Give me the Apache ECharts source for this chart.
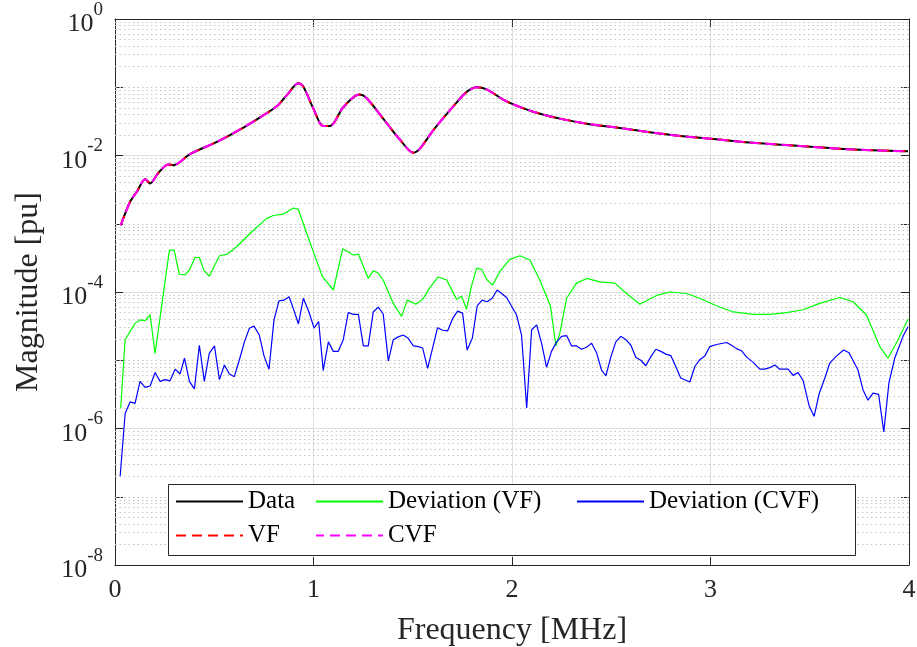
<!DOCTYPE html>
<html><head><meta charset="utf-8">
<script src="https://cdn.jsdelivr.net/npm/echarts@6/dist/echarts.min.js"></script>
<style>html,body{margin:0;padding:0;background:#fff}#c{width:917px;height:647px}</style>
</head><body><div id="c"></div>
<script>
// ---- Data (frequency in MHz, magnitude in pu) ----
const freqData = [0.029,0.076,0.110,0.152,0.177,0.219,0.269,0.294,0.378,0.513,0.647,0.731,0.815,0.865,0.924,0.949,0.999,1.049,1.083,1.150,1.231,1.268,1.351,1.436,1.503,1.536,1.603,1.704,1.771,1.822,1.872,1.956,1.998,2.107,2.241,2.392,2.527,2.694,2.862,3.000,3.198,3.450,3.701,3.995];
const magData = [9.5e-4,2.1e-3,2.95e-3,4.5e-3,3.9e-3,5.6e-3,7.4e-3,7.2e-3,1.05e-2,1.58e-2,2.57e-2,3.63e-2,5.25e-2,7.6e-2,0.114,0.102,0.049,0.027,0.027,0.051,0.078,0.069,0.0347,0.017,0.011,0.0126,0.0234,0.0525,0.085,0.100,0.093,0.066,0.0575,0.0437,0.0347,0.0288,0.0257,0.0219,0.0191,0.0176,0.0155,0.0138,0.0123,0.0115];
const vfFit = magData.slice();
const cvfFit = magData.slice();

const freqDevVF = [0.029,0.051,0.101,0.126,0.152,0.177,0.202,0.274,0.298,0.324,
0.353,0.375,0.403,0.425,0.449,0.475,0.526,0.563,0.613,0.680,
0.764,0.798,0.848,0.898,0.924,0.966,1.008,1.046,1.100,1.147,
1.175,1.200,1.226,1.276,1.301,1.326,1.351,1.402,1.444,1.472,
1.516,1.550,1.587,1.628,1.671,1.721,1.746,1.771,1.797,1.822,
1.847,1.875,1.902,1.939,1.989,2.040,2.090,2.140,2.194,2.221,
2.241,2.275,2.325,2.376,2.443,2.518,2.577,2.644,2.728,2.795,
2.879,2.946,3.030,3.114,3.215,3.299,3.383,3.466,3.550,3.651,
3.718,3.786,3.853,3.894,3.945,3.995];
const devVF = [2.0e-6,2.0e-5,3.47e-5,3.9e-5,3.8e-5,4.6e-5,1.26e-5,4.1e-4,4.1e-4,1.82e-4,
1.78e-4,2.1e-4,3.2e-4,3.2e-4,2.04e-4,1.7e-4,3.4e-4,3.55e-4,4.6e-4,7.2e-4,
1.2e-3,1.32e-3,1.38e-3,1.7e-3,1.62e-3,7.2e-4,3.3e-4,1.66e-4,1.07e-4,4.3e-4,
3.9e-4,3.47e-4,3.6e-4,1.58e-4,2.04e-4,1.9e-4,1.5e-4,6.8e-5,4.4e-5,7.6e-5,
6.6e-5,7.8e-5,1.17e-4,1.66e-4,1.5e-4,7.8e-5,8.7e-5,5.6e-5,1.26e-4,2.24e-4,
2.14e-4,1.5e-4,1.26e-4,2.0e-4,3.0e-4,3.4e-4,2.95e-4,1.5e-4,6.2e-5,1.62e-5,
2.5e-5,8.1e-5,1.35e-4,1.58e-4,1.41e-4,1.35e-4,9.5e-5,6.6e-5,8.9e-5,1.0e-4,
9.5e-5,8.1e-5,6.3e-5,5.1e-5,4.7e-5,4.7e-5,5.0e-5,5.5e-5,6.8e-5,8.3e-5,
7.2e-5,4.6e-5,1.58e-5,1.07e-5,2.0e-5,4.0e-5];

const freqDevCVF = [0.026,0.051,0.076,0.101,0.126,0.152,0.177,0.202,0.227,0.252,
0.277,0.303,0.328,0.350,0.375,0.400,0.425,0.450,0.475,0.501,
0.526,0.551,0.576,0.601,0.626,0.652,0.677,0.700,0.727,0.751,
0.776,0.801,0.826,0.851,0.877,0.898,0.924,0.949,0.977,1.003,
1.026,1.049,1.075,1.100,1.125,1.150,1.175,1.200,1.226,1.251,
1.276,1.301,1.326,1.351,1.377,1.402,1.427,1.452,1.477,1.503,
1.528,1.550,1.575,1.600,1.625,1.651,1.676,1.701,1.726,1.751,
1.774,1.800,1.825,1.850,1.875,1.900,1.925,1.973,2.023,2.048,
2.074,2.099,2.124,2.149,2.174,2.199,2.225,2.250,2.275,2.300,
2.325,2.350,2.376,2.401,2.426,2.451,2.473,2.498,2.523,2.548,
2.574,2.599,2.624,2.649,2.674,2.699,2.725,2.750,2.775,2.800,
2.825,2.850,2.896,2.921,2.946,2.971,2.996,3.030,3.081,3.106,
3.131,3.156,3.181,3.215,3.248,3.273,3.299,3.324,3.349,3.391,
3.416,3.441,3.466,3.497,3.522,3.547,3.576,3.601,3.634,3.671,
3.698,3.743,3.768,3.793,3.819,3.847,3.873,3.899,3.928,3.970,
3.995];
const devCVF = [2.0e-7,1.66e-6,2.45e-6,2.34e-6,4.9e-6,4.0e-6,4.2e-6,6.6e-6,4.9e-6,5.2e-6,
5.0e-6,7.4e-6,6.3e-6,1.07e-5,4.9e-6,3.8e-6,1.66e-5,4.9e-6,1.26e-5,1.62e-5,
5.2e-6,8.5e-6,6.3e-6,5.75e-6,1.0e-5,1.86e-5,2.95e-5,3.16e-5,2.34e-5,1.15e-5,
7.4e-6,3.9e-5,7.4e-5,7.6e-5,8.5e-5,5.75e-5,3.4e-5,8.1e-5,5.1e-5,2.95e-5,
3.7e-5,7.1e-6,1.86e-5,1.35e-5,1.35e-5,2.0e-5,5.0e-5,4.7e-5,4.7e-5,1.62e-5,
1.62e-5,5.1e-5,6.0e-5,4.8e-5,9.8e-6,2.0e-5,2.2e-5,2.34e-5,2.1e-5,1.62e-5,
1.58e-5,1.51e-5,7.6e-6,1.51e-5,3.0e-5,2.75e-5,2.7e-5,4.1e-5,5.25e-5,4.9e-5,
1.41e-5,2.1e-5,6.3e-5,7.6e-5,7.2e-5,8.1e-5,1.07e-4,8.3e-5,4.6e-5,2.34e-5,
2.0e-6,2.8e-5,3.3e-5,1.78e-5,7.9e-6,1.35e-5,1.86e-5,2.24e-5,2.3e-5,1.62e-5,
1.62e-5,1.45e-5,1.55e-5,1.78e-5,1.29e-5,7.2e-6,5.9e-6,1.12e-5,1.86e-5,2.24e-5,
2.0e-5,1.66e-5,1.1e-5,1.0e-5,8.3e-6,1.12e-5,1.45e-5,1.35e-5,1.23e-5,1.17e-5,
8.1e-6,5.5e-6,4.8e-6,8.1e-6,1.02e-5,1.15e-5,1.58e-5,1.7e-5,1.82e-5,1.66e-5,
1.48e-5,1.38e-5,1.12e-5,9.3e-6,7.4e-6,7.4e-6,7.8e-6,8.5e-6,7.4e-6,7.4e-6,
6.0e-6,6.6e-6,5.1e-6,2.14e-6,1.51e-6,3.2e-6,5.5e-6,9.1e-6,1.15e-5,1.41e-5,
1.29e-5,7.2e-6,3.7e-6,2.6e-6,3.3e-6,3.16e-6,8.9e-7,4.7e-6,1.07e-5,2.24e-5,
3.1e-5];

const xTicks = [0, 1, 2, 3, 4];
const seriesNames = ['Data', 'Deviation (VF)', 'Deviation (CVF)', 'VF', 'CVF'];

// ---- build ----
const FONT = '"Liberation Serif", "Times New Roman", serif';
const AX = '#262626';
const pairs = (xs, ys) => xs.map((x, i) => [x, ys[i]]);

const minorGrid = [];
for (let k = -8; k < 0; k++) {
  for (let m = 2; m <= 10; m++) {
    if (m === 10 && (k + 1) % 2 === 0) continue;
    minorGrid.push({ yAxis: m * Math.pow(10, k) });
  }
}

function mkLegend(name, left, top) {
  return {
    data: [name], left: left, top: top, orient: 'horizontal',
    itemWidth: 67, itemHeight: 12, itemGap: 0, padding: 0,
    selectedMode: false, z: 20,
    itemStyle: { color: 'rgba(0,0,0,0)', borderWidth: 0, opacity: 0 },
    textStyle: { fontFamily: FONT, fontSize: 25, color: '#000' }
  };
}

const chart = echarts.init(document.getElementById('c'), null, { renderer: 'canvas' });
chart.setOption({
  animation: false,
  backgroundColor: '#fff',
  grid: { left: 115, right: 8, top: 19, bottom: 82, containLabel: false, outerBoundsMode: 'none' },
  xAxis: [{
    type: 'value', min: xTicks[0], max: xTicks[xTicks.length - 1], interval: 1, position: 'bottom',
    axisLine: { show: true, onZero: false, lineStyle: { color: AX, width: 1 } },
    axisTick: { show: true, inside: true, length: 8, lineStyle: { color: AX } },
    axisLabel: { fontFamily: FONT, fontSize: 26, color: AX, margin: 12 },
    splitLine: { show: true, lineStyle: { color: '#dfdfdf', width: 1 } },
    name: 'Frequency [MHz]', nameLocation: 'middle', nameGap: 50,
    nameTextStyle: { fontFamily: FONT, fontSize: 32, color: AX }
  }, {
    type: 'value', min: xTicks[0], max: xTicks[xTicks.length - 1], interval: 1, position: 'top',
    axisLine: { show: true, onZero: false, lineStyle: { color: AX, width: 1 } },
    axisTick: { show: true, inside: true, length: 8, lineStyle: { color: AX } },
    axisLabel: { show: false }, splitLine: { show: false }
  }],
  yAxis: [{
    type: 'log', logBase: 10, min: 1e-8, max: 1, splitNumber: 8, position: 'left',
    axisLine: { show: true, onZero: false, lineStyle: { color: AX, width: 1 } },
    axisTick: { show: true, inside: true, length: 8, lineStyle: { color: AX } },
    axisLabel: {
      margin: 12, color: AX,
      formatter: function (v) {
        const e = Math.round(Math.log10(v));
        if (e % 2 !== 0) return '';
        return '{b|10}{s|' + e + '}';
      },
      rich: {
        b: { fontFamily: FONT, fontSize: 26, color: AX, padding: [11, 0, 0, 0], verticalAlign: 'bottom' },
        s: { fontFamily: FONT, fontSize: 19, color: AX, verticalAlign: 'top' }
      }
    },
    splitLine: { show: true, lineStyle: { color: ['#dfdfdf', 'rgba(0,0,0,0)'], width: 1 } },
    name: 'Magnitude [pu]', nameLocation: 'middle', nameGap: 70,
    nameTextStyle: { fontFamily: FONT, fontSize: 32, color: AX }
  }, {
    type: 'log', logBase: 10, min: 1e-8, max: 1, splitNumber: 8, position: 'right',
    axisLine: { show: true, onZero: false, lineStyle: { color: AX, width: 1 } },
    axisTick: { show: true, inside: true, length: 8, lineStyle: { color: AX } },
    axisLabel: { show: false }, splitLine: { show: false }
  }],
  legend: [
    mkLegend(seriesNames[0], 175, 489),
    mkLegend(seriesNames[1], 315, 489),
    mkLegend(seriesNames[2], 576, 489),
    mkLegend(seriesNames[3], 175, 523),
    mkLegend(seriesNames[4], 315, 523)
  ],
  graphic: [{
    type: 'rect', left: 168, top: 484, z: 15,
    shape: { width: 687, height: 71 },
    style: { fill: '#fff', stroke: AX, lineWidth: 1 }
  }],
  series: [{
    name: '_grid', type: 'line', data: [], silent: true, z: 1,
    markLine: {
      silent: true, symbol: 'none', z: 1, animation: false, precision: 20,
      label: { show: false },
      lineStyle: { type: [1.5, 3], color: '#c4c4c4', width: 1 },
      emphasis: { disabled: true },
      data: minorGrid
    }
  }, {
    name: seriesNames[0], type: 'line', data: pairs(freqData, magData), symbol: 'none', smooth: 0.3, z: 3,
    lineStyle: { color: '#000', width: 2 }, itemStyle: { color: '#000' }
  }, {
    name: seriesNames[1], type: 'line', data: pairs(freqDevVF, devVF), symbol: 'none', z: 3,
    lineStyle: { color: '#00ff00', width: 1.2 }, itemStyle: { color: '#00ff00' }
  }, {
    name: seriesNames[2], type: 'line', data: pairs(freqDevCVF, devCVF), symbol: 'none', z: 3,
    lineStyle: { color: '#0000ff', width: 1.2 }, itemStyle: { color: '#0000ff' }
  }, {
    name: seriesNames[3], type: 'line', data: pairs(freqData, vfFit), symbol: 'none', smooth: 0.3, z: 4,
    lineStyle: { color: '#ff0000', width: 2, type: [10, 6] }, itemStyle: { color: '#ff0000' }
  }, {
    name: seriesNames[4], type: 'line', data: pairs(freqData, cvfFit), symbol: 'none', smooth: 0.3, z: 5,
    lineStyle: { color: '#ff00ff', width: 2, type: [10, 6], dashOffset: 2 }, itemStyle: { color: '#ff00ff' }
  }]
});
</script>
</body></html>
